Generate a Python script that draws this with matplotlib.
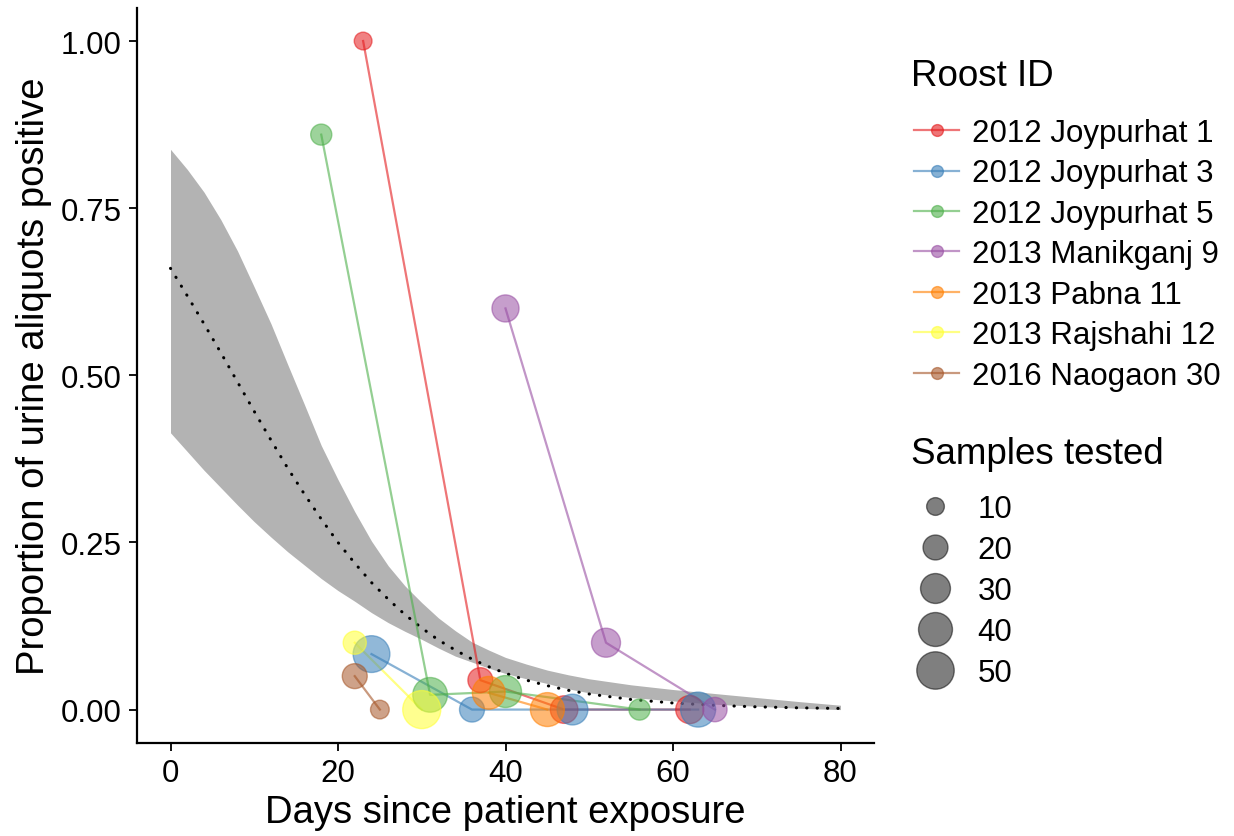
import numpy as np
import matplotlib
matplotlib.use("Agg")
import matplotlib.pyplot as plt
from matplotlib.lines import Line2D

plt.rcParams['font.family'] = ['Liberation Sans', 'DejaVu Sans']

# ---- data ----
roosts = ["2012 Joypurhat 1", "2012 Joypurhat 3", "2012 Joypurhat 5",
          "2013 Manikganj 9", "2013 Pabna 11", "2013 Rajshahi 12", "2016 Naogaon 30"]
colors = ["#E41A1C", "#377EB8", "#4DAF4A", "#984EA3", "#FF7F00", "#FFFF33", "#A65628"]

j1_days = [23, 37, 47, 62]
j1_prop = [1.00, 0.044, 0.0, 0.0]
j1_n = [10, 20, 25, 26]

j3_days = [24, 36, 48, 63]
j3_prop = [0.083, 0.0, 0.0, 0.0]
j3_n = [48, 20, 32, 43]

j5_days = [18, 31, 40, 56]
j5_prop = [0.86, 0.022, 0.027, 0.0]
j5_n = [14, 42, 35, 14]

m9_days = [40, 52, 65]
m9_prop = [0.60, 0.10, 0.0]
m9_n = [24, 28, 19]

p11_days = [38, 45]
p11_prop = [0.025, 0.0]
p11_n = [37, 40]

r12_days = [22, 30]
r12_prop = [0.10, 0.0]
r12_n = [17, 52]

n30_days = [22, 25]
n30_prop = [0.05, 0.0]
n30_n = [20, 11]

# model fit and its band
fit_days = [0, 2, 4, 6, 8, 10, 12, 14, 16, 18, 20, 22, 24, 26, 28, 30, 32, 34, 36,
            38, 40, 42.5, 45, 47.5, 50, 55, 60, 65, 70, 75, 80]
fit_prop = [0.660, 0.619, 0.577, 0.534, 0.490, 0.446, 0.403, 0.361, 0.322, 0.285,
            0.250, 0.219, 0.190, 0.165, 0.142, 0.122, 0.104, 0.089, 0.0755, 0.0641,
            0.0543, 0.0440, 0.0357, 0.0288, 0.0233, 0.0151, 0.0098, 0.0063, 0.0041,
            0.0026, 0.0017]
band_upper = [0.838, 0.808, 0.774, 0.733, 0.686, 0.632, 0.577, 0.516, 0.456, 0.395,
              0.344, 0.296, 0.252, 0.215, 0.185, 0.160, 0.137, 0.118, 0.101, 0.089,
              0.078, 0.068, 0.059, 0.052, 0.046, 0.037, 0.030, 0.024, 0.018, 0.012,
              0.0065]
band_lower = [0.414, 0.386, 0.358, 0.332, 0.306, 0.281, 0.258, 0.236, 0.216, 0.196,
              0.178, 0.162, 0.145, 0.130, 0.117, 0.105, 0.092, 0.080, 0.071, 0.062,
              0.054, 0.046, 0.039, 0.031, 0.025, 0.018, 0.013, 0.008, 0.005, 0.002,
              0.0]

size_breaks = [10, 20, 30, 40, 50]

series = [(j1_days, j1_prop, j1_n), (j3_days, j3_prop, j3_n), (j5_days, j5_prop, j5_n),
          (m9_days, m9_prop, m9_n), (p11_days, p11_prop, p11_n),
          (r12_days, r12_prop, r12_n), (n30_days, n30_prop, n30_n)]


def size_scale(n):
    n = np.asarray(n, dtype=float)
    d_px = 7.9 + 4.4 * np.sqrt(np.clip(n - 5, 0, None))
    return (d_px * 0.72) ** 2


W, H = 1234, 837
fig = plt.figure(figsize=(W / 100, H / 100), dpi=100)
ax = fig.add_axes([137 / W, 1 - 744 / H, (874 - 137) / W, (744 - 8.6) / H])

ax.fill_between(fit_days, band_lower, band_upper, color="#b3b3b3", lw=0, zorder=1)
ax.plot(fit_days, fit_prop, color="black", lw=2.2, dashes=(0.1, 3.3),
        dash_capstyle="round", zorder=2)

for (d, p, n), c in zip(series, colors):
    ax.plot(d, p, color=c, lw=1.6, alpha=0.6, zorder=3)
for (d, p, n), c in zip(series, colors):
    ax.scatter(d, p, s=size_scale(n), color=c, alpha=0.55, edgecolor=c,
               linewidth=1.0, zorder=4)

ax.set_xlim(-4, 84)
ax.set_ylim(-0.05, 1.05)
ax.set_xticks([0, 20, 40, 60, 80])
ax.set_yticks([0, 0.25, 0.5, 0.75, 1.0])
ax.set_yticklabels(["0.00", "0.25", "0.50", "0.75", "1.00"])
for s in ["top", "right"]:
    ax.spines[s].set_visible(False)
for s in ["left", "bottom"]:
    ax.spines[s].set_linewidth(1.6)
ax.tick_params(axis="both", length=6, width=1.3, labelsize=22.5, colors="black",
               pad=5)
ax.set_xlabel("Days since patient exposure", fontsize=27.5, labelpad=4)
ax.set_ylabel("Proportion of urine aliquots positive", fontsize=27.5, labelpad=6)

# legends
fig.text(911 / W, 1 - 76 / H, "Roost ID", fontsize=26.5, ha="left", va="center")
fig.text(911 / W, 1 - 454 / H, "Samples tested", fontsize=26.5, ha="left",
         va="center")

roost_handles = [Line2D([0], [0], color=c, lw=1.6, alpha=0.6, marker="o",
                        markersize=8.5, markerfacecolor=c, markeredgecolor=c)
                 for c in colors]
leg1 = fig.legend(roost_handles, roosts, loc="upper left",
                  bbox_to_anchor=(914 / W, 1 - 119 / H), frameon=False,
                  fontsize=22.5, handlelength=1.45, handletextpad=0.4,
                  labelspacing=0.335, borderpad=0, borderaxespad=0)

size_handles = [Line2D([0], [0], ls="none", marker="o",
                       markersize=np.sqrt(size_scale(b)),
                       markerfacecolor=(0, 0, 0, 0.5), markeredgecolor=(0, 0, 0, 0.5))
                for b in size_breaks]
leg2 = fig.legend(size_handles, [str(b) for b in size_breaks], loc="upper left",
                  bbox_to_anchor=(912 / W, 1 - 495 / H), frameon=False,
                  fontsize=22.5, handlelength=1.5, handletextpad=0.6,
                  labelspacing=0.35, borderpad=0, borderaxespad=0)

fig.savefig("out.png", dpi=100)
